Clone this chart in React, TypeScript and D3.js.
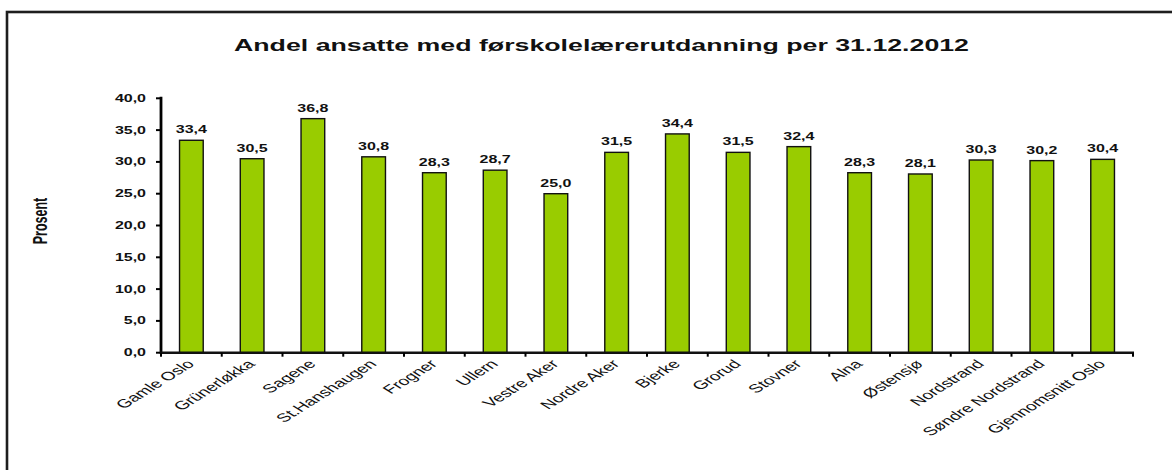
import * as d3 from "d3";

const categories = [
  "Gamle Oslo",
  "Grünerløkka",
  "Sagene",
  "St.Hanshaugen",
  "Frogner",
  "Ullern",
  "Vestre Aker",
  "Nordre Aker",
  "Bjerke",
  "Grorud",
  "Stovner",
  "Alna",
  "Østensjø",
  "Nordstrand",
  "Søndre Nordstrand",
  "Gjennomsnitt Oslo",
];
const values = [33.4, 30.5, 36.8, 30.8, 28.3, 28.7, 25.0, 31.5, 34.4, 31.5, 32.4, 28.3, 28.1, 30.3, 30.2, 30.4];
const yTicks = [0, 5, 10, 15, 20, 25, 30, 35, 40];
const title = "Andel ansatte med førskolelærerutdanning per 31.12.2012";
const caption = "Figur 2: Andel ansatte med førskolelærerutdanning per 31.12.2012";

const W = 1172;
const H = 470;
const SX = 1.6; // the source picture is stretched horizontally
const font = "'Liberation Sans', Arial, sans-serif";
const fmt = (v: number) => v.toFixed(1).replace(".", ",");

export default function App() {
  const left = 161;
  const right = 1133;
  const bottom = 352.7;
  const top = 98.3;

  const x = d3.scaleBand<string>().domain(categories).range([left, right]).paddingInner(0.61).paddingOuter(0.305);
  const y = d3.scaleLinear().domain([0, 40]).range([bottom, top]);
  const step = x.step();
  const bounds = d3.range(categories.length + 1).map((i) => left + i * step);

  return (
    <svg width={W} height={H} style={{ position: "absolute", left: 0, top: 0, background: "#fff" }}>
      {/* caption line of the page, cut off above the frame */}
      <text
        transform="translate(-10,-6.5) scale(2.0,1)"
        fontFamily="'Liberation Serif', 'Times New Roman', serif"
        fontSize={22}
        fill="#111"
      >
        {caption}
      </text>
      <rect x={7} y={12} width={W + 20} height={H + 20} fill="none" stroke="#1e1e1e" strokeWidth={2.6} />

      <text
        x={234}
        y={51}
        textLength={735}
        lengthAdjust="spacingAndGlyphs"
        fontFamily={font}
        fontWeight="bold"
        fontSize={17}
        fill="#111"
      >
        {title}
      </text>

      <text
        transform={`translate(47,221) scale(${SX},1) rotate(-90)`}
        textAnchor="middle"
        fontFamily={font}
        fontWeight="bold"
        fontSize={12.5}
        fill="#111"
      >
        Prosent
      </text>

      {categories.map((c, i) => (
        <rect
          key={c}
          x={x(c)}
          y={y(values[i])}
          width={x.bandwidth()}
          height={bottom - y(values[i])}
          fill="#99cc00"
          stroke="#111"
          strokeWidth={1.4}
        />
      ))}

      {categories.map((c, i) => (
        <text
          key={`v-${c}`}
          transform={`translate(${x(c)! + x.bandwidth() / 2},${y(values[i]) - 7}) scale(${SX},1)`}
          textAnchor="middle"
          fontFamily={font}
          fontWeight="bold"
          fontSize={10}
          fill="#111"
        >
          {fmt(values[i])}
        </text>
      ))}

      {yTicks.map((t) => (
        <g key={`y-${t}`}>
          <line x1={left - 5} x2={left} y1={y(t)} y2={y(t)} stroke="#000" strokeWidth={2} />
          <text
            transform={`translate(${left - 15},${y(t) + 3.5}) scale(${SX},1)`}
            textAnchor="end"
            fontFamily={font}
            fontWeight="bold"
            fontSize={10}
            fill="#111"
          >
            {fmt(t)}
          </text>
        </g>
      ))}
      <line x1={left} x2={left} y1={top - 1.5} y2={bottom + 1} stroke="#000" strokeWidth={2.8} />

      <line x1={left - 1} x2={right + 1} y1={bottom} y2={bottom} stroke="#111" strokeWidth={2.4} />
      {bounds.map((b, i) => (
        <line key={`xt-${i}`} x1={b} x2={b} y1={bottom} y2={bottom + 4} stroke="#000" strokeWidth={2} />
      ))}

      {categories.map((c) => (
        <text
          key={`l-${c}`}
          transform={`translate(${x(c)! + x.bandwidth() / 2 + 4},${bottom + 12}) scale(${SX},1) rotate(-45)`}
          textAnchor="end"
          fontFamily={font}
          fontSize={12}
          fill="#111"
        >
          {c}
        </text>
      ))}
    </svg>
  );
}
